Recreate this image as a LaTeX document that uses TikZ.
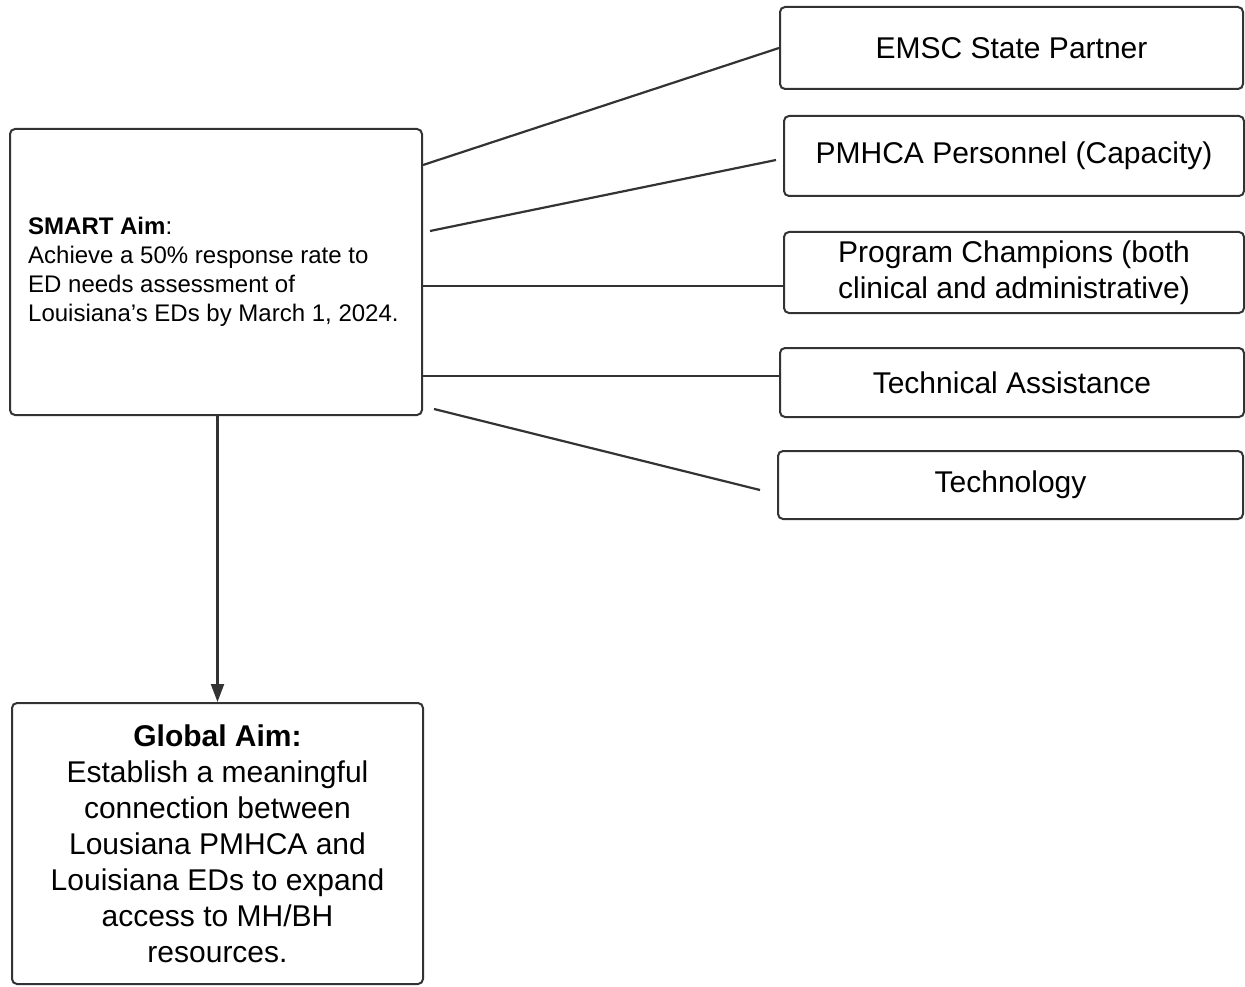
\documentclass[tikz,border=0pt]{standalone}
\usepackage{fontspec}
\setmainfont{Liberation Sans}
\usetikzlibrary{arrows.meta}
\definecolor{edge}{HTML}{333333}
\tikzset{
  box/.style={draw=edge, line width=2pt, rounded corners=5pt, fill=white, inner sep=0pt, align=center},
  conn/.style={draw=edge, line width=2.2pt},
  bigtxt/.style={font=\fontsize{30}{36}\selectfont},
  smalltxt/.style={font=\fontsize{24}{29}\selectfont}
}
\begin{document}
\begin{tikzpicture}[x=1pt,y=-1pt]
\useasboundingbox (0,0) rectangle (1245,987);
% left boxes
\node[box, minimum width=412pt, minimum height=286pt] (smart) at (216,272) {};
\node[smalltxt, inner sep=0pt, align=left, anchor=west] (smarttxt) at (28,272)
  {\textbf{SMART Aim}:\\Achieve a 50\% response rate to\\ED needs assessment of\\Louisiana's EDs by March 1, 2024.};
\node[box, bigtxt, minimum width=411pt, minimum height=281pt] (global) at (217.5,843.5)
  {\textbf{Global Aim:}\\Establish a meaningful\\connection between\\Lousiana PMHCA and\\Louisiana EDs to expand\\access to MH/BH\\resources.};
% right boxes
\node[box, bigtxt, minimum width=463pt, minimum height=82pt] (emsc) at (1011.5,48) {EMSC State Partner};
\node[box, bigtxt, minimum width=460pt, minimum height=80pt] (pmhca) at (1014,156) {PMHCA Personnel (Capacity)};
\node[box, bigtxt, minimum width=460pt, minimum height=81pt] (champ) at (1014,272.5) {Program Champions (both\\clinical and administrative)};
\node[box, bigtxt, minimum width=464pt, minimum height=69pt] (tech) at (1012,382.5) {Technical Assistance};
\node[box, bigtxt, minimum width=465pt, minimum height=68pt] (techno) at (1010.5,485) {Technology};
% connector end points
\coordinate (s1) at (423,165);
\coordinate (s2) at (430,231);
\coordinate (s3) at (423,286);
\coordinate (s4) at (423,376);
\coordinate (s5) at (434,409);
\coordinate (e2) at (776,160);
\coordinate (e5) at (760,490);
\draw[conn] (s1) -- (emsc.west);
\draw[conn] (s2) -- (e2);
\draw[conn] (s3) -- (champ.west |- s3);
\draw[conn] (s4) -- (tech.west |- s4);
\draw[conn] (s5) -- (e5);
\draw[conn, -{Triangle[length=18pt,width=13pt]}] (smart.south -| global.north) -- (global.north);
\end{tikzpicture}
\end{document}
